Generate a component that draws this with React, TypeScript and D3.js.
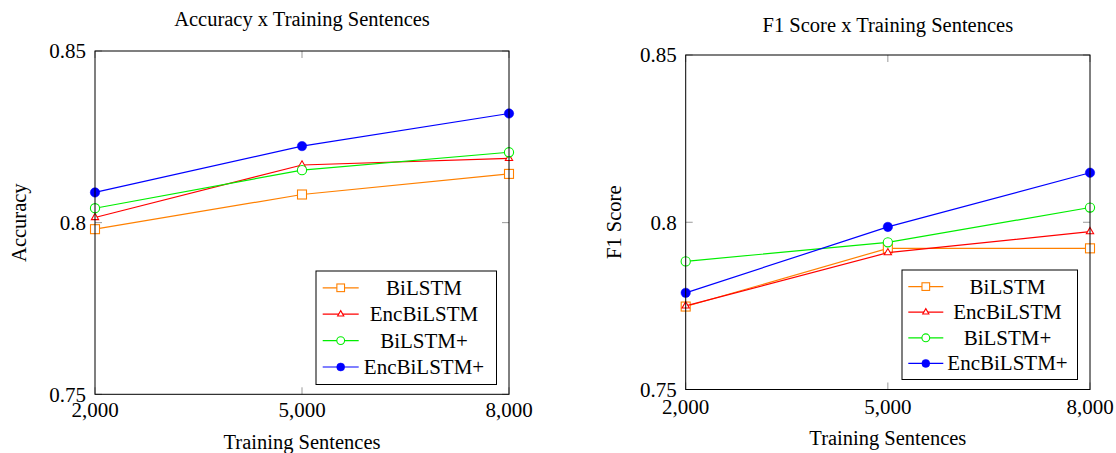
import React from "react";
import * as d3 from "d3";

const xValues = [2000, 5000, 8000];
const xTickLabels = ["2,000", "5,000", "8,000"];
const yTicks = [0.75, 0.8, 0.85];
const yTickLabels = ["0.75", "0.8", "0.85"];
const seriesNames = ["BiLSTM", "EncBiLSTM", "BiLSTM+", "EncBiLSTM+"];

const accBiLSTM = [0.7981, 0.8082, 0.8142];
const accEncBiLSTM = [0.8015, 0.8168, 0.8187];
const accBiLSTMPlus = [0.8042, 0.8153, 0.8205];
const accEncBiLSTMPlus = [0.8088, 0.8223, 0.8318];

const f1BiLSTM = [0.7748, 0.7922, 0.7922];
const f1EncBiLSTM = [0.775, 0.7909, 0.7972];
const f1BiLSTMPlus = [0.7883, 0.794, 0.8044];
const f1EncBiLSTMPlus = [0.7789, 0.7986, 0.8148];

const colors = ["#ff8000", "#ff0000", "#00ee00", "#0000ff"];
const markers = ["square", "triangle", "circle", "dot"];
const FONT = "Liberation Serif, Times New Roman, Times, serif";

function Marker({ type, x, y, color, s = 1 }: any) {
  if (type === "square") {
    const h = 4.5 * s;
    return <rect x={x - h} y={y - h} width={2 * h} height={2 * h} fill="white" stroke={color} strokeWidth={1.1} />;
  }
  if (type === "triangle") {
    const r = 4.2 * s;
    const pts = [
      [x, y - r],
      [x + r * 0.866, y + r * 0.5],
      [x - r * 0.866, y + r * 0.5],
    ];
    return <polygon points={pts.map((p) => p.join(",")).join(" ")} fill="white" stroke={color} strokeWidth={1.1} />;
  }
  if (type === "circle") {
    return <circle cx={x} cy={y} r={4.6 * s} fill="white" stroke={color} strokeWidth={1.1} />;
  }
  return <circle cx={x} cy={y} r={4.7 * s} fill={color} stroke={color} strokeWidth={0.5} />;
}

function Panel({ cfg }: any) {
  const x = d3.scalePoint<number>().domain(xValues).range([cfg.left, cfg.right]);
  const y = d3.scaleLinear().domain([0.75, 0.85]).range([cfg.bottom, cfg.top]);
  const line = d3
    .line<number>()
    .x((_, i) => x(xValues[i]) as number)
    .y((d) => y(d));
  const cx = (cfg.left + cfg.right) / 2;
  const tickLen = 7;
  return (
    <g style={{ fontFamily: FONT }} fill="black">
      <text x={cx} y={cfg.titleY} textAnchor="middle" fontSize={20.5}>
        {cfg.title}
      </text>
      {xValues.map((v, i) => (
        <g key={"xt" + i}>
          <line x1={x(v)} x2={x(v)} y1={cfg.bottom} y2={cfg.bottom - tickLen} stroke="#999" strokeWidth={1} />
          <line x1={x(v)} x2={x(v)} y1={cfg.top} y2={cfg.top + tickLen} stroke="#999" strokeWidth={1} />
          <text x={x(v)} y={cfg.bottom + cfg.xTickDy} textAnchor="middle" fontSize={21}>
            {xTickLabels[i]}
          </text>
        </g>
      ))}
      {yTicks.map((v, i) => (
        <g key={"yt" + i}>
          <line x1={cfg.left} x2={cfg.left + tickLen} y1={y(v)} y2={y(v)} stroke="#999" strokeWidth={1} />
          <line x1={cfg.right} x2={cfg.right - tickLen} y1={y(v)} y2={y(v)} stroke="#999" strokeWidth={1} />
          <text x={cfg.left - 9} y={y(v)} dy="0.35em" textAnchor="end" fontSize={21}>
            {yTickLabels[i]}
          </text>
        </g>
      ))}
      {cfg.series.map((vals: number[], si: number) => (
        <g key={"s" + si}>
          <path d={line(vals) as string} fill="none" stroke={colors[si]} strokeWidth={1.2} />
          {vals.map((v, i) => (
            <Marker key={i} type={markers[si]} x={x(xValues[i]) as number} y={y(v)} color={colors[si]} />
          ))}
        </g>
      ))}
      <rect x={cfg.left} y={cfg.top} width={cfg.right - cfg.left} height={cfg.bottom - cfg.top} fill="none" stroke="black" strokeWidth={1} />
      <rect x={cfg.lg.x0} y={cfg.lg.y0} width={cfg.lg.x1 - cfg.lg.x0} height={cfg.lg.y1 - cfg.lg.y0} fill="white" stroke="black" strokeWidth={1} />
      {seriesNames.map((name, si) => {
        const ry = cfg.lg.rowY0 + si * cfg.lg.rowStep;
        return (
          <g key={"lg" + si}>
            <line x1={cfg.lg.lx0} x2={cfg.lg.lx1} y1={ry} y2={ry} stroke={colors[si]} strokeWidth={1.2} />
            <Marker type={markers[si]} x={(cfg.lg.lx0 + cfg.lg.lx1) / 2} y={ry} color={colors[si]} s={0.85} />
            <text x={cfg.lg.tx} y={ry} dy="0.33em" textAnchor="middle" fontSize={21}>
              {name}
            </text>
          </g>
        );
      })}
      <text x={cx} y={cfg.xLabelY} textAnchor="middle" fontSize={20.5}>
        Training Sentences
      </text>
      <text
        transform={`translate(${cfg.yLabelX},${(cfg.top + cfg.bottom) / 2}) rotate(-90)`}
        textAnchor="middle"
        fontSize={20.5}
      >
        {cfg.yLabel}
      </text>
    </g>
  );
}

const leftCfg = {
  title: "Accuracy x Training Sentences",
  yLabel: "Accuracy",
  left: 95,
  right: 509,
  top: 51,
  bottom: 394.3,
  titleY: 26,
  xTickDy: 22.5,
  xLabelY: 449,
  yLabelX: 25.5,
  series: [accBiLSTM, accEncBiLSTM, accBiLSTMPlus, accEncBiLSTMPlus],
  lg: { x0: 316, x1: 496.5, y0: 271, y1: 384.5, lx0: 322.7, lx1: 358.7, tx: 424, rowY0: 287.8, rowStep: 26.4 },
};

const rightCfg = {
  title: "F1 Score x Training Sentences",
  yLabel: "F1 Score",
  left: 685.7,
  right: 1090,
  top: 55,
  bottom: 389.5,
  titleY: 31.5,
  xTickDy: 24,
  xLabelY: 445,
  yLabelX: 620.5,
  series: [f1BiLSTM, f1EncBiLSTM, f1BiLSTMPlus, f1EncBiLSTMPlus],
  lg: { x0: 902, x1: 1077.5, y0: 270, y1: 379.5, lx0: 908.3, lx1: 943.3, tx: 1007.5, rowY0: 286.6, rowStep: 25.6 },
};

export default function App() {
  return (
    <svg
      width={1116}
      height={453}
      style={{ position: "absolute", left: 0, top: 0, background: "white" }}
    >
      <rect width={1116} height={453} fill="white" />
      <Panel cfg={leftCfg} />
      <Panel cfg={rightCfg} />
    </svg>
  );
}
